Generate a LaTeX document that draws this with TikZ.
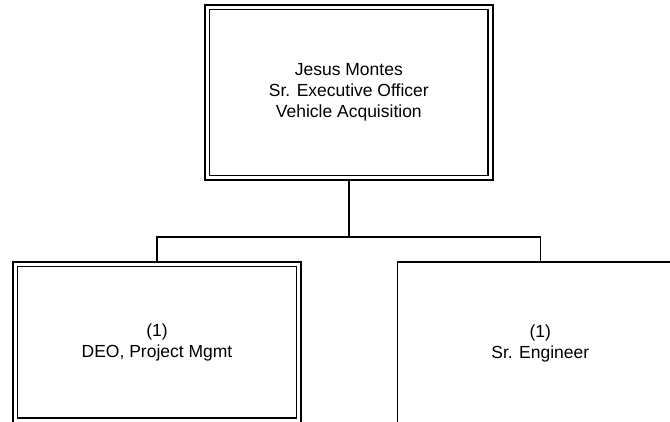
\documentclass[tikz,border=0pt]{standalone}
\usepackage{fontspec}
\setmainfont{Liberation Sans}
\usetikzlibrary{positioning}

\begin{document}
\begin{tikzpicture}[
    x=1pt, y=-1pt,
    font=\fontsize{17.5}{21}\selectfont,
    orgbox/.style={rectangle, draw=black, line width=1.6pt, fill=white, align=center,
                   inner sep=0pt, minimum width=286pt, minimum height=164pt},
    leadbox/.style={orgbox, double=white, double distance=3pt, line width=1.6pt},
    link/.style={line width=1.6pt, draw=black}
  ]
    % Fixed frame so the page has the reference's size
    \useasboundingbox (0,0) rectangle (670,422);

    % Head of the unit — double frame
    \node[leadbox, minimum width=283.3pt, minimum height=170.7pt] (officer) at (348.8, 92.5)
      {Jesus Montes\\Sr. Executive Officer\\Vehicle Acquisition};

    % Reports — both run off the bottom of the page
    \node[leadbox, minimum width=283.6pt, minimum height=155.8pt] (deo) at (157, 342.1)
      {(1)\\DEO, Project Mgmt};
    \node[orgbox] (engineer) at (540.3, 343.8)
      {(1)\\Sr. Engineer};

    % Tree connectors — one drop, then a bar across to both boxes
    \coordinate (split) at (officer.south |- 0, 237);
    \draw[link] (officer.south) -- (split);
    \draw[link] (split) -| (deo.north);
    \draw[link] (split) -| (engineer.north);
  \end{tikzpicture}
\end{document}
